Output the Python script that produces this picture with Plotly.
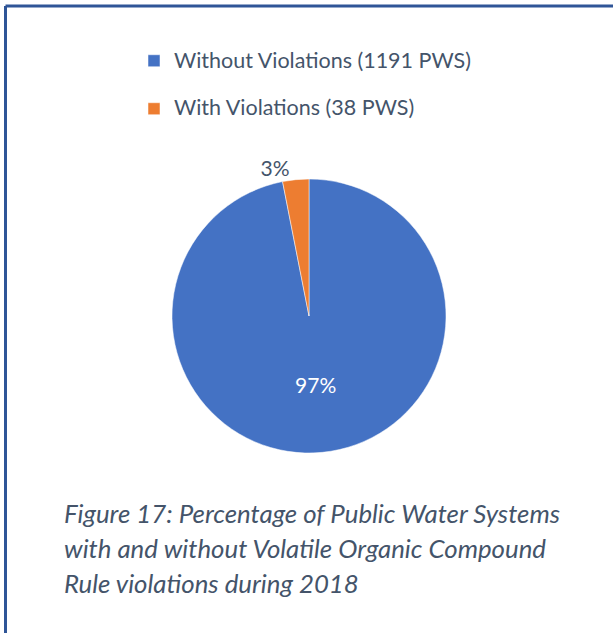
import plotly.graph_objects as go

# Data
categories = ["Without Violations (1191 PWS)", "With Violations (38 PWS)"]
counts = [1191, 38]
slice_colors = ["#4472C4", "#ED7D31"]
caption_lines = [
    "Figure 17: Percentage of Public Water Systems",
    "with and without Volatile Organic Compound",
    "Rule violations during 2018",
]

W, H = 613, 633
TEXT = "#44546A"

# pie placement in pixels (center, radius)
cx, cy, r = 309, 316, 137

# legend rows are spaced wider than the text itself: the visible text is
# set in a span, the legend font only drives the row height
LEG_TEXT = 21.5
legend_labels = [
    f"<span style='font-size:{LEG_TEXT}px'>{c}</span><br> " for c in categories
]

fig = go.Figure()

fig.add_trace(go.Pie(
    labels=legend_labels,
    values=counts,
    customdata=categories,
    sort=False,
    direction="clockwise",
    rotation=0,
    marker=dict(colors=slice_colors, line=dict(color="white", width=0.5)),
    texttemplate="%{percent:.0%}",
    textposition=["inside", "outside"],
    insidetextorientation="horizontal",
    insidetextfont=dict(color="white", size=21),
    outsidetextfont=dict(color=TEXT, size=21),
    hovertemplate="%{customdata}<br>%{value} PWS (%{percent})<extra></extra>",
    domain=dict(
        x=[(cx - r) / W, (cx + r) / W],
        y=[(H - cy - r) / H, (H - cy + r) / H],
    ),
))

# caption, one annotation per line
for i, line in enumerate(caption_lines):
    fig.add_annotation(
        xref="paper", yref="paper",
        x=62 / W, y=1 - (513 + 35 * i) / H,
        xanchor="left", yanchor="middle",
        text=f"<i>{line}</i>",
        showarrow=False,
        font=dict(family="Lato", size=25.8, color=TEXT),
    )

# frame lines (left and top only are visible)
border = "#2F5597"
fig.add_shape(type="line", xref="paper", yref="paper",
              x0=5.5 / W, x1=1.02, y0=1 - 6 / H, y1=1 - 6 / H,
              line=dict(color=border, width=3))
fig.add_shape(type="line", xref="paper", yref="paper",
              x0=5.5 / W, x1=5.5 / W, y0=-0.02, y1=1 - 6 / H,
              line=dict(color=border, width=3))

fig.update_layout(
    width=W, height=H,
    margin=dict(l=0, r=0, t=0, b=0),
    paper_bgcolor="white",
    plot_bgcolor="white",
    font=dict(family="Lato", color=TEXT),
    showlegend=True,
    legend=dict(
        x=134 / W, y=1 - 43 / H,
        xanchor="left", yanchor="top",
        font=dict(family="Lato", size=17.3, color=TEXT),
        bgcolor="rgba(0,0,0,0)",
        valign="top",
    ),
)

fig.write_html(
    "out.html",
    config={"displayModeBar": False},
    post_script="document.body.style.margin='0';",
)
